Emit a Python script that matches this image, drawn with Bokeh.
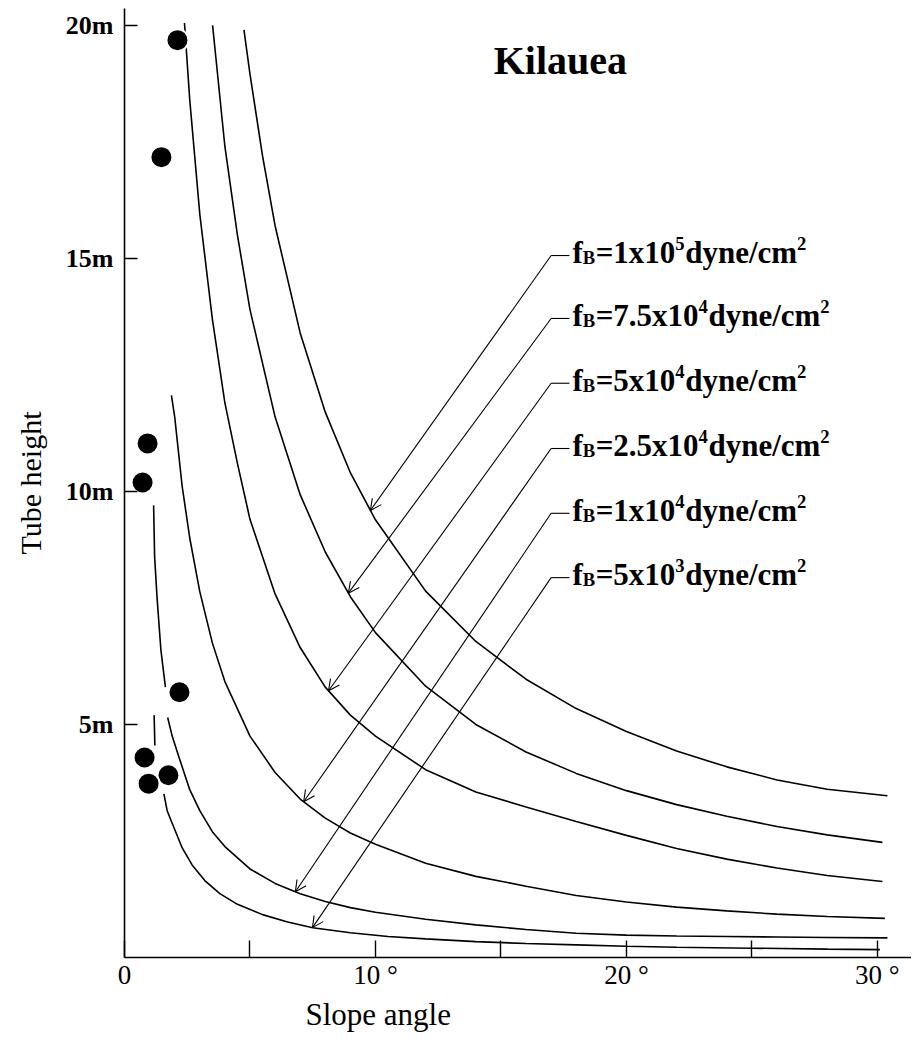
import numpy as np
from bokeh.plotting import figure
from bokeh.models import (ColumnDataSource, Arrow, OpenHead, FixedTicker, Range1d, Title)
from bokeh.core.properties import value
from bokeh.embed import file_html
from bokeh.resources import INLINE

nan = float("nan")

# ---------------- data ----------------
# slope angle (deg) and tube height (m) for each f_B curve
angle_1e5 = [4.76, 5, 5.5, 6, 7, 8, 9, 10, 12, 14, 16, 18, 20, 22, 24, 26, 28, 30.4]
height_1e5 = [19.9, 18.95, 17.2, 15.7, 13.4, 11.7, 10.4, 9.39, 7.86, 6.78, 5.97, 5.34, 4.85, 4.43, 4.09, 3.81, 3.61, 3.47]

angle_75e3 = [3.51, 4, 4.5, 5, 6, 7, 8, 9, 10, 12, 14, 16, 18, 20, 22, 24, 26, 28, 30.2]
height_75e3 = [20.0, 17.4, 15.5, 13.9, 11.6, 9.93, 8.7, 7.74, 6.97, 5.82, 5.0, 4.41, 3.95, 3.58, 3.28, 3.03, 2.81, 2.63, 2.47]

angle_5e4 = [2.39, 2.6, 3, 3.5, 4, 4.5, 5, 6, 7, 8, 9, 10, 12, 14, 16, 18, 20, 22, 24, 26, 28, 30.2]
height_5e4 = [20.05, 18.4, 15.95, 13.7, 11.9, 10.6, 9.4, 7.8, 6.65, 5.8, 5.2, 4.75, 4.03, 3.55, 3.23, 2.92, 2.62, 2.34, 2.11, 1.92, 1.76, 1.63]

angle_25e3 = [1.87, 2, 2.3, 2.6, 3, 3.5, 4, 5, 6, 7, 8, 9, 10, 12, 14, 16, 18, 20, 22, 24, 26, 28, 30.3]
height_25e3 = [12.06, 11.6, 10.1, 9.0, 7.85, 6.75, 5.92, 4.75, 3.97, 3.4, 2.99, 2.67, 2.43, 2.02, 1.74, 1.53, 1.33, 1.19, 1.08, 1.0, 0.93, 0.88, 0.84]

angle_1e4 = [1.16, 1.2, 1.3, 1.45, 1.63, nan, 1.72, 1.9, 2.2, 2.6, 3, 3.5, 4, 5, 6, 7, 8, 9, 10, 12, 14, 16, 18, 20, 22, 24, 26, 28, 30.4]
height_1e4 = [9.7, 8.6, 7.7, 6.6, 5.8, nan, 5.15, 4.75, 4.25, 3.6, 3.15, 2.7, 2.38, 1.9, 1.59, 1.37, 1.2, 1.07, 0.97, 0.82, 0.7, 0.6, 0.52, 0.48, 0.46, 0.45, 0.44, 0.43, 0.42]

angle_5e3 = [1.18, 1.21, nan, 1.57, 1.7, 1.96, 2.3, 2.7, 3.2, 3.8, 4.5, 5.5, 6.5, 7.5, 9, 10.5, 12, 14, 16, 18, 20, 22, 25, 28, 30.1]
height_5e3 = [5.2, 4.55, nan, 3.51, 3.15, 2.8, 2.35, 1.98, 1.65, 1.37, 1.14, 0.92, 0.76, 0.64, 0.53, 0.45, 0.4, 0.34, 0.3, 0.27, 0.24, 0.22, 0.2, 0.18, 0.17]

# observed Kilauea tubes
obs_angle = [2.11, 1.47, 0.92, 0.72, 2.19, 0.80, 1.75, 0.96]
obs_height = [19.68, 17.17, 11.03, 10.19, 5.69, 4.29, 3.91, 3.73]

# f_B labels (text)
fb_mantissa = ["1x10", "7.5x10", "5x10", "2.5x10", "1x10", "5x10"]
fb_exponent = ["5", "4", "4", "4", "4", "3"]

x_ticks = [0, 5, 10, 15, 20, 25, 30]
x_tick_labels = {0: "0", 5: "", 10: "10 °", 15: "", 20: "20 °", 25: "", 30: "30 °"}
y_ticks = [5, 10, 15, 20]
y_tick_labels = {5: "5m", 10: "10m", 15: "15m", 20: "20m"}

curves = [(angle_1e5, height_1e5), (angle_75e3, height_75e3), (angle_5e4, height_5e4),
          (angle_25e3, height_25e3), (angle_1e4, height_1e4), (angle_5e3, height_5e3)]

# ---------------- layout of annotations ----------------
arrow_tip_angle = [9.80, 8.92, 8.13, 7.14, 6.81, 7.49]
corner_angle = 17.0
dash_end_angle = 17.73
text_start_angle = 17.85
corner_height = [15.06, 13.71, 12.32, 10.92, 9.53, 8.15]

FONT = "Liberation Serif"

p = figure(frame_width=787, frame_height=949,
           x_range=Range1d(0, 31.36), y_range=Range1d(0, 20.36),
           output_backend="svg", toolbar_location=None,
           min_border_left=124, min_border_right=0, min_border_top=8, min_border_bottom=20)
p.xgrid.visible = False
p.ygrid.visible = False
p.outline_line_color = None
p.background_fill_color = "white"
p.border_fill_color = "white"

# x axis
xa = p.xaxis[0]
xa.ticker = FixedTicker(ticks=x_ticks, minor_ticks=[])
xa.major_label_overrides = x_tick_labels
xa.major_tick_in = 17
xa.major_tick_out = 0
xa.minor_tick_in = 0
xa.minor_tick_out = 0
xa.axis_line_width = 1.6
xa.major_tick_line_width = 1.4
xa.axis_line_color = "black"
xa.major_tick_line_color = "black"
xa.major_label_text_font = FONT
xa.major_label_text_font_size = "27px"
xa.major_label_text_color = "black"
xa.major_label_standoff = 2

# y axis
ya = p.yaxis[0]
ya.ticker = FixedTicker(ticks=y_ticks, minor_ticks=[])
ya.major_label_overrides = y_tick_labels
ya.major_tick_in = 13
ya.major_tick_out = 0
ya.minor_tick_in = 0
ya.minor_tick_out = 0
ya.axis_line_width = 1.6
ya.major_tick_line_width = 1.4
ya.axis_line_color = "black"
ya.major_tick_line_color = "black"
ya.major_label_text_font = FONT
ya.major_label_text_font_style = "bold"
ya.major_label_text_font_size = "26px"
ya.major_label_text_color = "black"
ya.major_label_standoff = 11
ya.axis_label = "Tube height"
ya.axis_label_text_font = FONT
ya.axis_label_text_font_style = "normal"
ya.axis_label_text_font_size = "30px"
ya.axis_label_text_color = "black"
ya.axis_label_standoff = 16

# x axis title, placed left of centre as in the figure
p.add_layout(Title(text="Slope angle", align="left", offset=181, text_font=FONT,
                   text_font_size="31px", text_font_style="normal", text_color="black",
                   standoff=4), "below")

# curves
for ax, hy in curves:
    p.line(ax, hy, line_color="black", line_width=1.6)

# observation dots
p.scatter(obs_angle, obs_height, size=22, fill_color="black", line_color="white", line_width=2)

# arrows from labels to curves
tip_y = []
for (ax, hy), tx in zip(curves, arrow_tip_angle):
    a = np.array(ax, dtype=float)
    h = np.array(hy, dtype=float)
    m = ~np.isnan(a)
    tip_y.append(float(np.interp(tx, a[m], h[m])))

asrc = ColumnDataSource(dict(x0=[corner_angle] * 6, y0=corner_height,
                             x1=arrow_tip_angle, y1=tip_y))
p.add_layout(Arrow(end=OpenHead(size=11, line_width=1.1, line_color="black"),
                   x_start="x0", y_start="y0", x_end="x1", y_end="y1",
                   source=asrc, line_width=1.1, line_color="black"))
p.segment(x0=[corner_angle] * 6, y0=corner_height, x1=[dash_end_angle] * 6, y1=corner_height,
          line_color="black", line_width=1.1)

# label pieces with subscript / superscript
TB = {'f': 333, 'B': 667, '=': 570, '.': 250, 'x': 500, 'd': 556, 'y': 500, 'n': 556,
      'e': 444, '/': 278, 'c': 444, 'm': 833}
for dgt in "0123456789":
    TB[dgt] = 500


def tw(s, size):
    return sum(TB.get(c, 500) for c in s) / 1000.0 * size


S = 31.0
SS = S * 0.6
rows = dict(x=[], y=[], text=[], size=[], xo=[], yo=[])
for mant, ex, yc in zip(fb_mantissa, fb_exponent, corner_height):
    pieces = [("f", S, 0), ("B", SS, 5), ("=" + mant, S, 0), (ex, SS, -9),
              ("dyne/cm", S, 0), ("2", SS, -9)]
    off = 0.0
    for txt, sz, dy in pieces:
        rows["x"].append(text_start_angle)
        rows["y"].append(yc)
        rows["text"].append(txt)
        rows["size"].append("%.1fpx" % sz)
        rows["xo"].append(off)
        rows["yo"].append(-3 + dy)
        off += tw(txt, sz) + (0.5 if sz < S else 0)
tsrc = ColumnDataSource(rows)
p.text(x="x", y="y", text="text", x_offset="xo", y_offset="yo", text_font_size="size",
       text_font=value(FONT), text_font_style="bold", text_color="black",
       text_baseline="alphabetic", text_align="left", source=tsrc)

# title inside the plot
p.text(x=[17.37], y=[19.25], text=["Kilauea"], text_font=value(FONT),
       text_font_style="bold", text_font_size="40px", text_align="center",
       text_baseline="alphabetic", text_color="black")

open("out.html", "w").write(file_html(p, INLINE))
